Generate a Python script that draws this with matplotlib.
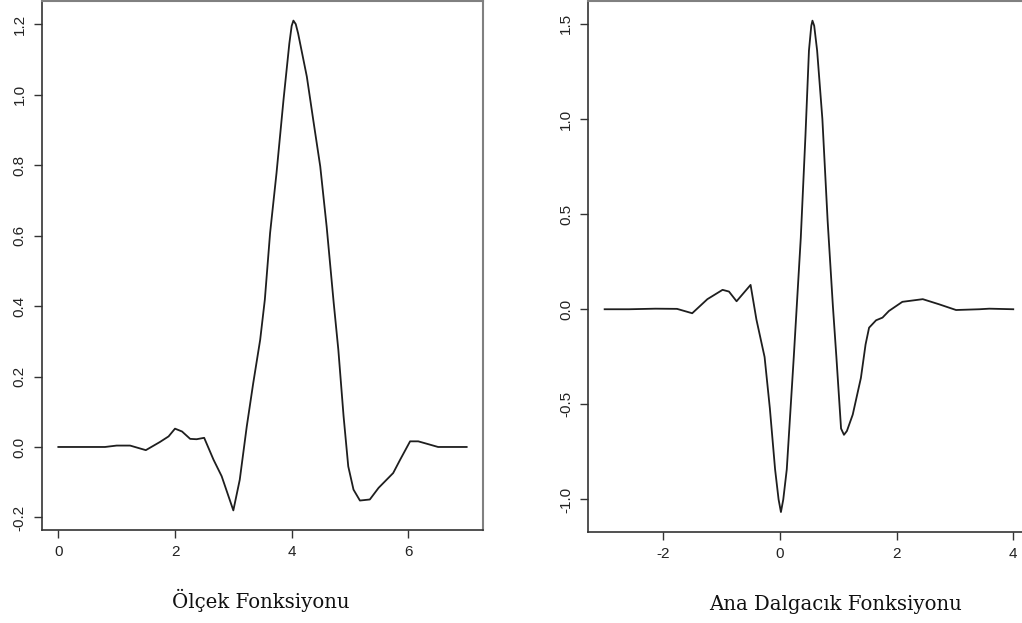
import matplotlib

matplotlib.use("Agg")
import matplotlib.pyplot as plt

# Scaling function (left panel)
phi_x = [0.0, 0.8, 1.0, 1.23, 1.5, 1.74, 1.89, 2.0, 2.12, 2.26, 2.37, 2.5,
         2.66, 2.8, 3.0, 3.11, 3.23, 3.34, 3.46, 3.54, 3.63, 3.74, 3.86,
         3.96, 4.0, 4.03, 4.07, 4.11, 4.26, 4.37, 4.49, 4.6, 4.72, 4.8,
         4.89, 4.97, 5.06, 5.17, 5.34, 5.49, 5.74, 5.86, 6.03, 6.17, 6.32,
         6.51, 7.0]
phi_y = [0.0, 0.0, 0.004, 0.004, -0.009, 0.014, 0.03, 0.052, 0.044, 0.023,
         0.022, 0.026, -0.036, -0.083, -0.18, -0.093, 0.058, 0.18, 0.304,
         0.418, 0.607, 0.777, 0.985, 1.145, 1.195, 1.21, 1.2, 1.174, 1.051,
         0.928, 0.796, 0.625, 0.41, 0.276, 0.087, -0.055, -0.121, -0.152,
         -0.149, -0.116, -0.074, -0.036, 0.016, 0.016, 0.009, 0.0, 0.0]

# Mother wavelet (right panel)
psi_x = [-3.0, -2.58, -2.13, -1.76, -1.5, -1.24, -0.98, -0.87, -0.74,
         -0.5, -0.4, -0.26, -0.17, -0.08, -0.02, 0.02, 0.06, 0.12, 0.24,
         0.36, 0.44, 0.5, 0.54, 0.56, 0.59, 0.64, 0.73, 0.82, 0.91, 0.97,
         1.05, 1.1, 1.15, 1.25, 1.39, 1.47, 1.53, 1.65, 1.76, 1.87, 2.1,
         2.45, 2.73, 3.02, 3.42, 3.59, 4.0]
psi_y = [0.0, 0.0, 0.003, 0.002, -0.021, 0.053, 0.102, 0.093, 0.042,
         0.128, -0.054, -0.251, -0.52, -0.842, -1.0, -1.066, -1.0, -0.842,
         -0.251, 0.375, 0.912, 1.36, 1.49, 1.517, 1.49, 1.36, 1.0, 0.465,
         0.017, -0.251, -0.627, -0.66, -0.64, -0.554, -0.361, -0.185,
         -0.097, -0.058, -0.044, -0.009, 0.039, 0.053, 0.026, -0.004, 0.0,
         0.003, 0.0]

phi_xticks = [0, 2, 4, 6]
phi_yticks = [-0.2, 0.0, 0.2, 0.4, 0.6, 0.8, 1.0, 1.2]
psi_xticks = [-2, 0, 2, 4]
psi_yticks = [-1.0, -0.5, 0.0, 0.5, 1.0, 1.5]

W, H = 1022, 623
LINE = "#1e1e1e"
TICK_FONT = "Liberation Sans"


def r_limits(vals):
    lo, hi = min(vals), max(vals)
    pad = 0.04 * (hi - lo)
    return lo - pad, hi + pad


def style_axis(ax, xticks, yticks):
    ax.set_xticks(xticks)
    ax.set_yticks(yticks)
    ax.set_xticklabels([f"{t:g}" for t in xticks], fontfamily=TICK_FONT,
                       fontsize=11)
    ax.set_yticklabels([f"{t:.1f}" for t in yticks], fontfamily=TICK_FONT,
                       fontsize=11, rotation=90, va="center")
    ax.tick_params(direction="out", length=6, width=1, color="#333",
                   pad=5, labelcolor="#222")
    for side in ("left", "bottom"):
        ax.spines[side].set_color("#333")
        ax.spines[side].set_linewidth(1.2)
    for side in ("top", "right"):
        ax.spines[side].set_color("#808080")
        ax.spines[side].set_linewidth(1.5)


fig = plt.figure(figsize=(W / 100, H / 100), dpi=100)

ax1 = fig.add_axes([42 / W, (H - 530) / H, 441 / W, 529 / H])
ax1.plot(phi_x, phi_y, color=LINE, lw=1.3)
ax1.set_xlim(*r_limits(phi_x))
ax1.set_ylim(*r_limits(phi_y))
style_axis(ax1, phi_xticks, phi_yticks)

ax2 = fig.add_axes([588.3 / W, (H - 531.7) / H, 441.3 / W, 530.7 / H])
ax2.plot(psi_x, psi_y, color=LINE, lw=1.3)
ax2.set_xlim(-3.28, 4.28)
ax2.set_ylim(*r_limits(psi_y))
style_axis(ax2, psi_xticks, psi_yticks)

fig.text(261 / W, 1 - 600 / H, "Ölçek Fonksiyonu", ha="center", va="center",
         fontfamily="DejaVu Serif", fontsize=14.2, color="#111")
fig.text(835 / W, 1 - 605 / H, "Ana Dalgacık Fonksiyonu", ha="center",
         va="center", fontfamily="DejaVu Serif", fontsize=14.2, color="#111")

fig.savefig("out.png", dpi=100)
